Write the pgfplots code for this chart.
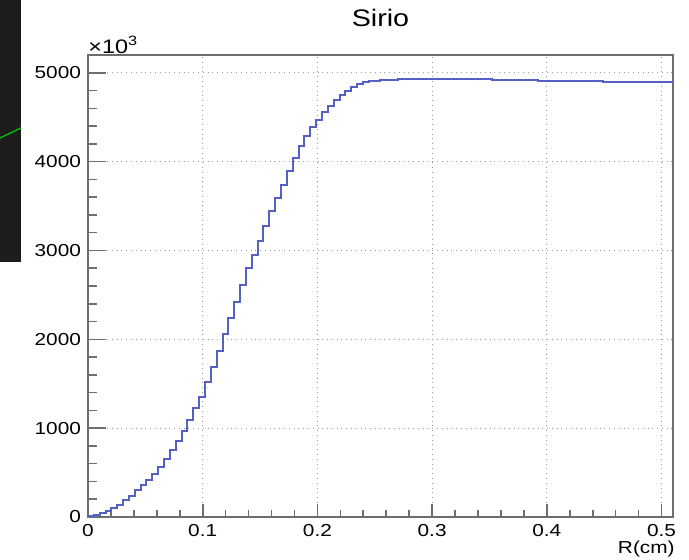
\documentclass[border=0pt]{standalone}
\usepackage{fontspec}
\setmainfont{Liberation Sans}[FakeStretch=1.2]
\usepackage{pgfplots}
\usepackage{pgfplotstable}
\pgfplotsset{compat=1.18}
\definecolor{histBlue}{HTML}{5560C4}
\definecolor{frameGray}{HTML}{6E6E6E}
\definecolor{gridGray}{HTML}{9A9A9A}

% bin left edges and contents (in units of 10^3)
\pgfplotstableread{
x y
0 9
0.0051 27
0.0102 47
0.0153 70
0.0204 102
0.0255 140
0.0306 188
0.0357 242
0.0408 299
0.0459 357
0.051 419
0.0561 483
0.0612 564
0.0663 650
0.0714 749
0.0765 851
0.0816 970
0.0867 1092
0.0918 1223
0.0969 1356
0.102 1520
0.1071 1688
0.1122 1871
0.1173 2055
0.1224 2238
0.1275 2422
0.1326 2611
0.1377 2798
0.1428 2951
0.1479 3105
0.153 3273
0.1581 3439
0.1632 3587
0.1683 3736
0.1734 3894
0.1785 4046
0.1836 4174
0.1887 4293
0.1938 4384
0.1989 4473
0.204 4555
0.2091 4630
0.2142 4691
0.2193 4748
0.2244 4796
0.2295 4837
0.2346 4868
0.2397 4891
0.2448 4903
0.2499 4912
0.255 4916
0.2601 4920
0.2652 4924
0.2703 4927
0.2754 4930
0.2805 4930
0.2856 4930
0.2907 4930
0.2958 4930
0.3009 4930
0.306 4930
0.3111 4930
0.3162 4930
0.3213 4930
0.3264 4930
0.3315 4930
0.3366 4930
0.3417 4930
0.3468 4930
0.3519 4915
0.357 4915
0.3621 4915
0.3672 4915
0.3723 4915
0.3774 4915
0.3825 4915
0.3876 4915
0.3927 4908
0.3978 4908
0.4029 4908
0.408 4908
0.4131 4908
0.4182 4908
0.4233 4908
0.4284 4908
0.4335 4908
0.4386 4908
0.4437 4908
0.4488 4896
0.4539 4896
0.459 4896
0.4641 4896
0.4692 4896
0.4743 4896
0.4794 4896
0.4845 4896
0.4896 4896
0.4947 4896
0.4998 4896
0.5049 4896
0.51 4896
}\sirio

\begin{document}
\begin{tikzpicture}
\useasboundingbox (-44bp,-21.5bp) rectangle (300.5bp,258.5bp);
% dark strip of the screenshot on the left
\fill[black!89] (-44bp,258.5bp) rectangle (-33.5bp,127.5bp);
\draw[green!80!black, line width=0.6bp] (-44bp,189.5bp) -- (-33.5bp,194.5bp);
\begin{axis}[
  name=ax,
  at={(0,0)}, anchor=south west,
  scale only axis, width=292.5bp, height=231bp,
  xmin=0, xmax=0.51, ymin=0, ymax=5200,
  xtick={0,0.1,0.2,0.3,0.4,0.5},
  ytick={0,1000,2000,3000,4000,5000},
  minor x tick num=4, minor y tick num=4,
  tick align=inside, tick pos=left,
  x tick style={/pgfplots/major tick length=6.5bp, /pgfplots/minor tick length=3.5bp},
  y tick style={/pgfplots/major tick length=9bp, /pgfplots/minor tick length=4.5bp},
  every tick/.append style={frameGray, line width=0.8bp},
  grid=major,
  major grid style={gridGray, dotted, line width=0.6bp},
  axis line style={frameGray, line width=1bp},
  /pgf/number format/.cd, fixed, 1000 sep={}, assume math mode=true,
  /pgfplots/.cd,
  ticklabel style={font=\fontsize{8.7}{10}\selectfont},
  xlabel={R(cm)},
  xlabel style={at={(rel axis cs:1,0)}, anchor=base east, inner sep=0pt,
    xshift=1bp, yshift=-18bp, font=\fontsize{8.7}{10}\selectfont},
]
  \addplot[const plot, histBlue, line width=1bp] table {\sirio};
\end{axis}
\node[anchor=base, inner sep=0pt, font=\fontsize{12}{14}\selectfont]
  at ([yshift=14bp]ax.north) {Sirio};
\node[anchor=base west, inner sep=0pt, font=\fontsize{9.8}{11}\selectfont]
  at ([yshift=0.5bp]ax.north west) {×10\raisebox{0.8ex}{\fontsize{6.8}{7}\selectfont 3}};
\end{tikzpicture}
\end{document}
